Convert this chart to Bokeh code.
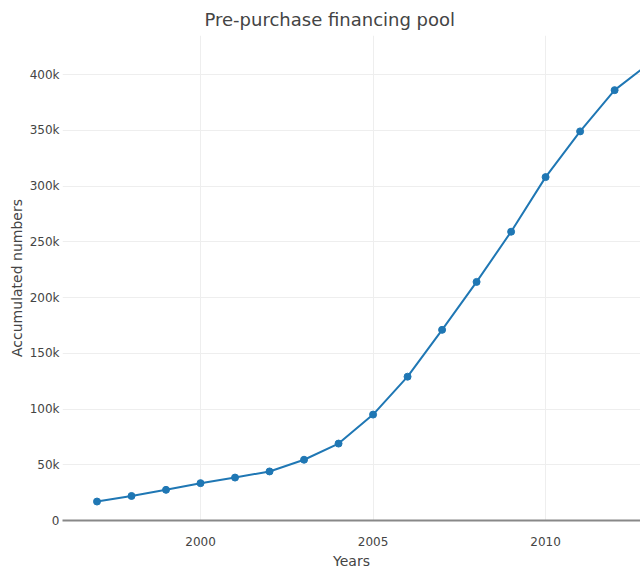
from bokeh.plotting import figure
from bokeh.models import FixedTicker, NumeralTickFormatter, Range1d, Title
from bokeh.embed import file_html
from bokeh.resources import INLINE

years = [1997, 1998, 1999, 2000, 2001, 2002, 2003, 2004, 2005, 2006, 2007, 2008, 2009, 2010, 2011, 2012, 2013]
pool = [17000, 22000, 27500, 33500, 38500, 44000, 54500, 69000, 95000, 129000, 171000, 214000, 259000, 308000, 349000, 386000, 410000]
x_ticks = [2000, 2005, 2010]
y_ticks = [0, 50000, 100000, 150000, 200000, 250000, 300000, 350000, 400000]

FONT = "DejaVu Sans"
GREY = "#444444"

p = figure(width=640, height=571, output_backend="svg", toolbar_location=None,
           x_range=Range1d(1996.0, 2012.75), y_range=Range1d(0, 435000),
           min_border_left=62, min_border_right=0, min_border_top=35, min_border_bottom=51)
p.outline_line_color = None
p.background_fill_color = "white"
p.border_fill_color = "white"

t = Title(text="Pre-purchase financing pool", align="left", offset=142,
          text_font=FONT, text_font_size="18px", text_font_style="normal",
          text_color=GREY, standoff=12)
p.add_layout(t, "above")

p.line(years, pool, line_color="#1f77b4", line_width=2)
p.scatter(years, pool, size=7, fill_color="#1f77b4", line_color="#1f77b4")

p.xaxis.ticker = FixedTicker(ticks=x_ticks)
p.yaxis.ticker = FixedTicker(ticks=y_ticks)
p.yaxis.formatter = NumeralTickFormatter(format="0a")

for ax in (p.xaxis[0], p.yaxis[0]):
    ax.major_tick_line_color = None
    ax.minor_tick_line_color = None
    ax.major_tick_out = 0
    ax.major_tick_in = 0
    ax.minor_tick_out = 0
    ax.minor_tick_in = 0
    ax.major_label_text_font = FONT
    ax.major_label_text_font_size = "12px"
    ax.major_label_text_color = GREY
    ax.axis_label_text_font = FONT
    ax.axis_label_text_font_size = "14px"
    ax.axis_label_text_font_style = "normal"
    ax.axis_label_text_color = GREY

p.xaxis.axis_label = "Years"
p.yaxis.axis_label = "Accumulated numbers"
p.xaxis.axis_line_color = "#888888"
p.xaxis.axis_line_width = 2
p.yaxis.axis_line_color = None
p.xaxis.major_label_standoff = 16
p.yaxis.major_label_standoff = 3
p.xaxis.axis_label_standoff = 4
p.yaxis.axis_label_standoff = 2

p.xgrid.ticker = FixedTicker(ticks=x_ticks)
p.ygrid.ticker = FixedTicker(ticks=y_ticks)
p.xgrid.grid_line_color = "#eeeeee"
p.ygrid.grid_line_color = "#eeeeee"

open("out.html", "w").write(file_html(p, INLINE))
